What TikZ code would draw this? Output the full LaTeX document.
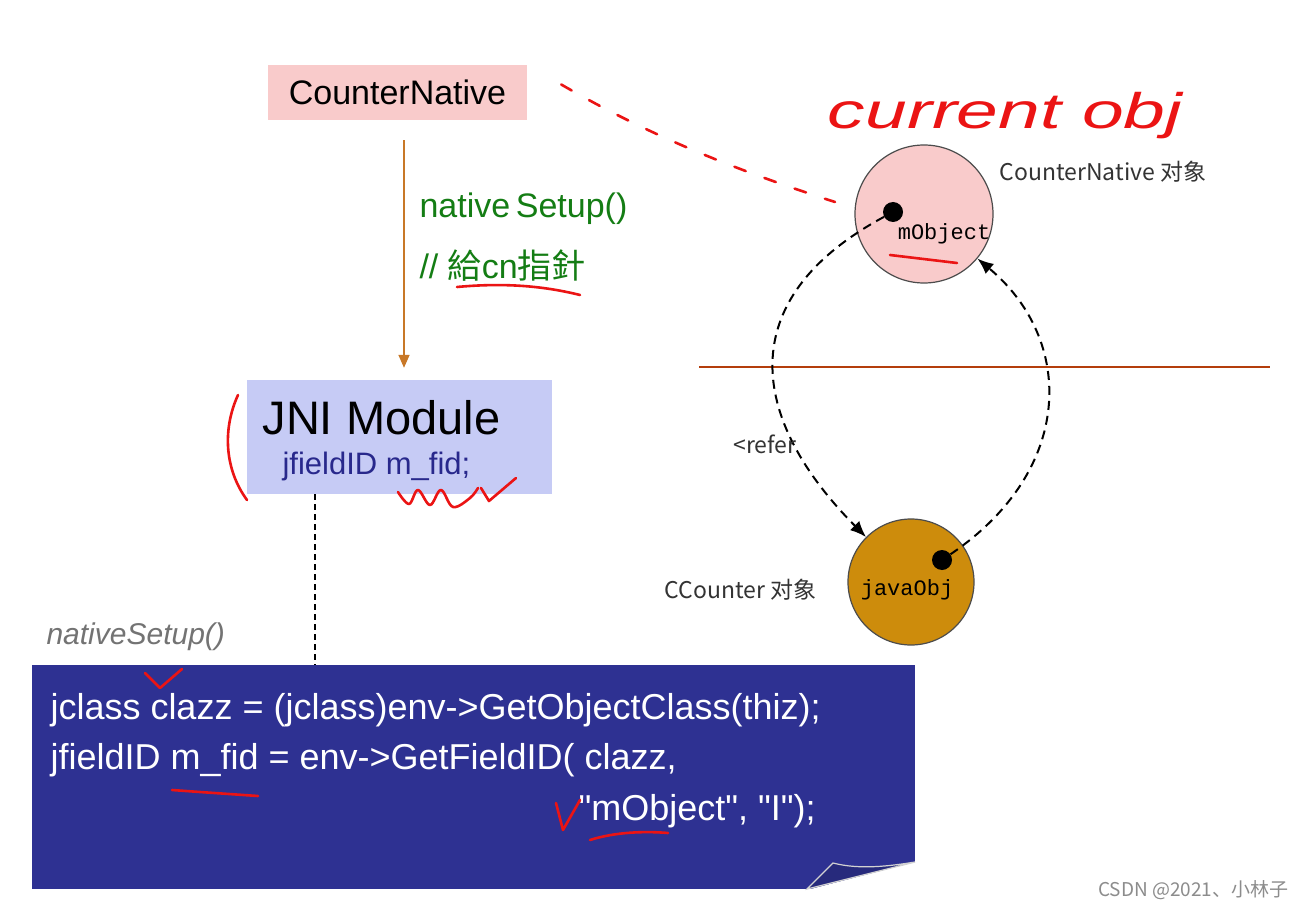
\documentclass[tikz,border=0pt]{standalone}
\usepackage{fontspec}
\setmainfont{Liberation Sans}
\setmonofont{Liberation Mono}
\newfontfamily\codefont{Liberation Sans}[Ligatures=TeXOff]
\newfontfamily\cjktc{Noto Sans CJK TC}
\newfontfamily\cjksc{Noto Sans CJK SC}
\usepackage{tikz}
\usetikzlibrary{arrows.meta}
\definecolor{cnpink}{RGB}{249,203,203}
\definecolor{jnililac}{RGB}{198,203,245}
\definecolor{codeblue}{RGB}{46,49,146}
\definecolor{setupgreen}{RGB}{20,125,20}
\definecolor{setuporange}{RGB}{200,120,40}
\definecolor{ccorange}{RGB}{205,140,12}
\definecolor{dividerbrown}{RGB}{180,62,12}
\definecolor{fidblue}{RGB}{40,40,140}
\definecolor{penred}{RGB}{235,20,20}
\tikzset{
  plainbox/.style  = {shape=rectangle, inner sep=0pt},
  cnbox/.style     = {plainbox, fill=cnpink, minimum width=259pt, minimum height=55pt,
                      font=\fontsize{34}{40}\selectfont},
  jnibox/.style    = {plainbox, fill=jnililac, minimum width=305pt, minimum height=114pt},
  codebox/.style   = {plainbox, fill=codeblue, minimum width=883pt, minimum height=224pt},
  codeline/.style  = {anchor=west, text=white, font=\codefont\fontsize{36}{40}\selectfont},
  setupnote/.style = {anchor=west, text=setupgreen, font=\fontsize{34}{38}\selectfont},
  objcircle/.style = {circle, draw=gray!60!black, line width=1.2pt, inner sep=0pt},
  refdot/.style    = {circle, fill=black, minimum size=20pt, inner sep=0pt},
  fieldname/.style = {font=\ttfamily\fontsize{22}{24}\selectfont},
  objlabel/.style  = {text=black!80, font=\cjksc\fontsize{23}{28}\selectfont},
  refarrow/.style  = {line width=2pt, dash pattern=on 9pt off 6pt,
                      -{Latex[length=16pt,width=13pt]}},
  pen/.style       = {penred, line width=2.6pt, line cap=round, line join=round}
}

\begin{document}
\begin{tikzpicture}[x=1pt,y=-1pt]
 \useasboundingbox[fill=white] (0,0) rectangle (1306,912);

 \node[cnbox] (cn) at (397.5,92.5) {CounterNative};
 \node[jnibox] (jni) at (399.5,437) {};
 \node[anchor=west, font=\fontsize{47}{52}\selectfont] (jnititle) at (259,418) {JNI Module};
 \node[anchor=west, text=fidblue, font=\fontsize{31}{36}\selectfont] (fid) at (279,466) {jfieldID m\_fid;};

 \draw[setuporange, line width=1.6pt, -{Triangle[length=13pt,width=11pt]}]
   ([xshift=6.5pt,yshift=-20pt]cn.south) -- ([xshift=4.5pt,yshift=12pt]jni.north);
 \node[setupnote] (setup) at (416,209) {native\,Setup()};
 \node[setupnote] (setupcmt) at (416,266) {// {\cjktc 給}cn{\cjktc 指針}};

 \node[codebox] (code) at (473.5,777) {};
 \fill[white] (915,862) -- (916,890) -- (807,890) -- cycle;
 \filldraw[fill=codeblue!85!black, draw=gray!35, line width=1.2pt]
   (807,889) -- (833,863) .. controls (860,870) and (890,866) .. (915,862) -- cycle;
 \draw[line width=1.5pt, dash pattern=on 6pt off 4pt] ([xshift=-84.5pt]jni.south) -- ([xshift=-158.5pt]code.north);
 \node[anchor=west, text=black!55, font=\itshape\fontsize{30}{34}\selectfont] (callname) at (43,637) {nativeSetup()};
 \node[codeline] (line1) at (47,710) {jclass clazz = (jclass)env->GetObjectClass(thiz);};
 \node[codeline] (line2) at (47,760) {jfieldID m\_fid = env->GetFieldID( clazz,};
 \node[codeline] (line3) at (575,811) {"mObject", "I");};

 \node[objcircle, fill=cnpink, minimum size=138pt] (cnobj) at (924,214) {};
 \node[refdot] (mdot) at (893,212) {};
 \node[fieldname] (mobj) at (944,234) {mObject};
 \node[objlabel, anchor=west] (cnlabel) at (996,172) {CounterNative 对象};

 \node[objcircle, fill=ccorange, minimum size=126pt] (ccobj) at (911,582) {};
 \node[refdot] (jdot) at (942,560) {};
 \node[fieldname] (jobj) at (907,590) {javaObj};
 \node[objlabel, anchor=east] (cclabel) at (820,590) {CCounter 对象};

 \coordinate (divl) at (699,367);
 \coordinate (divr) at (1270,367);
 \draw[dividerbrown, line width=2.2pt] (divl) -- (divr);

 \draw[refarrow] (mdot) .. controls (730,300) and (750,420) .. (ccobj.north west);
 \draw[refarrow] (jdot) .. controls (1075,470) and (1075,340) .. (cnobj);
 \node[objlabel] (refer) at (765,444) {<refer};

 % hand annotations
 \draw[pen, dash pattern=on 12pt off 20pt] (cn.east) ++(34pt,8pt) coordinate (penstart)
   .. controls (640,130) and (720,165) .. (835,202) coordinate (penend);
 \node[penred, font=\itshape\fontsize{50}{56}\selectfont, xscale=1.5] (curobj) at (1005,116) {current obj};
 \draw[pen] (457,287) .. controls (500,283) and (540,285) .. (580,295);
 \draw[pen] (238,395) .. controls (222,430) and (225,470) .. (247,500);
 \draw[pen] plot[smooth, tension=0.6] coordinates {(398,492) (409,504) (418,490) (430,505) (441,490) (453,507) (470,498) (478,488)};
 \draw[pen] (481,488) -- (489,501) -- (516,478);
 \draw[pen] (890,255) -- (957,263);
 \draw[pen] (145,673) -- (160,688) -- (182,669);
 \draw[pen] (172,790) -- (200,792) -- (258,796);
 \draw[pen] (556,803) -- (563,830) -- (580,800);
 \draw[pen] (590,840) .. controls (615,832) and (645,831) .. (668,833);

 \node[anchor=east, text=black!45, font=\cjksc\fontsize{19}{22}\selectfont] (mark) at (1292,890) {CSDN @2021、小林子};
\end{tikzpicture}
\end{document}
